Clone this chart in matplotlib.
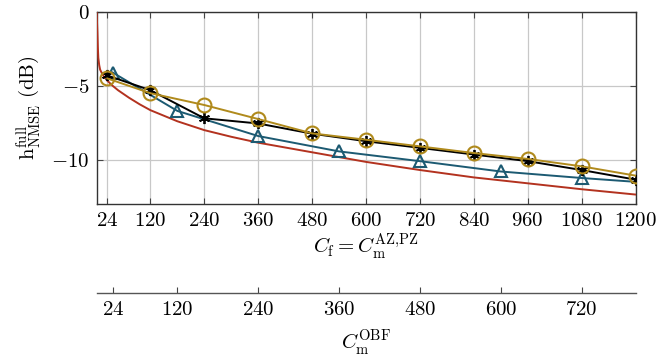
import matplotlib
matplotlib.use("Agg")
import matplotlib.pyplot as plt
import numpy as np

plt.rcParams['mathtext.fontset'] = 'cm'
plt.rcParams['font.family'] = ['DejaVu Serif']

# ---- data ----
cf_ticks = [24, 120, 240, 360, 480, 600, 720, 840, 960, 1080, 1200]
obf_ticks = [24, 120, 240, 360, 480, 600, 720]
y_ticks = [0, -5, -10]

# red: bound curve (C_f axis)
red_x = [0.3, 1, 2, 3, 4, 6, 8, 12, 16, 24, 36, 48, 72, 96, 120, 180, 240, 300,
         360, 480, 600, 720, 840, 960, 1080, 1200]
red_y = [0.0, -0.6, -1.4, -2.4, -3.1, -3.6, -3.9, -4.15, -4.35, -4.65, -5.0, -5.3,
         -5.8, -6.25, -6.65, -7.4, -8.0, -8.45, -8.85, -9.5, -10.15, -10.7, -11.2,
         -11.6, -12.0, -12.36]

# black (asterisk) on C_f axis
black_x = [24, 120, 240, 360, 480, 600, 720, 840, 960, 1080, 1200]
black_y = [-4.3, -5.3, -7.2, -7.55, -8.24, -8.75, -9.2, -9.65, -10.1, -10.7, -11.35]

# gold (circle) on C_f axis
gold_x = [24, 120, 240, 360, 480, 600, 720, 840, 960, 1080, 1200]
gold_y = [-4.5, -5.5, -6.3, -7.25, -8.22, -8.65, -9.1, -9.55, -9.95, -10.45, -11.08]

# teal (triangle) given on C_m^OBF axis
teal_obf = [24, 120, 240, 360, 480, 600, 720, 800]
teal_y = [-4.1, -6.7, -8.4, -9.44, -10.1, -10.8, -11.24, -11.5]

RED = '#b3321f'
TEAL = '#1c5a72'
GOLD = '#b08a1c'
BLACK = '#000000'

obf_to_cf = lambda v: np.asarray(v, dtype=float) * 1.5
cf_to_obf = lambda v: np.asarray(v, dtype=float) / 1.5

fig = plt.figure(figsize=(6.57, 3.61), dpi=100)
ax = fig.add_axes([0.1469, 0.4349, 0.8204, 0.532])

ax.plot(red_x, red_y, color=RED, lw=1.4, zorder=3)
ax.plot(obf_to_cf(teal_obf), teal_y, color=TEAL, lw=1.4, marker='^', ms=8,
        mfc='none', mec=TEAL, mew=1.5, markevery=list(range(len(teal_obf) - 1)), zorder=4)
ax.plot(black_x, black_y, color=BLACK, lw=1.4, marker=(6, 2, 0), ms=8,
        mec=BLACK, mew=1.3, zorder=5)
ax.plot(gold_x, gold_y, color=GOLD, lw=1.4, marker='o', ms=10,
        mfc='none', mec=GOLD, mew=1.5, zorder=6)

ax.set_xlim(0, 1200)
ax.set_ylim(-13, 0)
ax.set_xticks(cf_ticks)
ax.set_xticklabels([f'${t}$' for t in cf_ticks])
ax.set_yticks(y_ticks)
ax.set_yticklabels([f'${t}$' if t >= 0 else f'$-{abs(t)}$' for t in y_ticks])
ax.grid(True, color='#c8c8c8', lw=0.9)
ax.set_axisbelow(True)
ax.tick_params(direction='in', length=4, width=0.8, color='#444444',
               top=True, right=True, labelsize=15, pad=5)
for s in ax.spines.values():
    s.set_color('#333333')
    s.set_linewidth(1.0)

ax.set_xlabel(r'$C_{\mathrm{f}} = C_{\mathrm{m}}^{\mathrm{AZ{,}PZ}}$', fontsize=15, labelpad=2)
ax.set_ylabel(r'$\mathrm{h}_{\mathrm{NMSE}}^{\mathrm{full}}\ (\mathrm{dB})$', fontsize=15, labelpad=6)

sec = ax.secondary_xaxis(-0.4635, functions=(cf_to_obf, obf_to_cf))
sec.set_xticks(obf_ticks)
sec.set_xticklabels([f'${t}$' for t in obf_ticks])
sec.tick_params(direction='in', length=4, width=0.8, color='#444444', labelsize=15, pad=5)
sec.spines['bottom'].set_color('#555555')
sec.spines['bottom'].set_linewidth(1.0)
sec.set_xlabel(r'$C_{\mathrm{m}}^{\mathrm{OBF}}$', fontsize=15, labelpad=7)

fig.savefig('out.png', dpi=100)
